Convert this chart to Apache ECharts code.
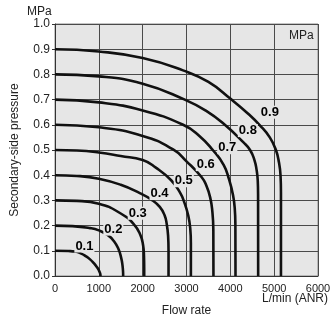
<!DOCTYPE html>
<html>
<head>
<meta charset="utf-8">
<script src="https://cdn.jsdelivr.net/npm/echarts@6/dist/echarts.min.js"></script>
<style>
html,body{margin:0;padding:0;background:#fff;}
#c{width:334px;height:324px;}
</style>
</head>
<body>
<div id="c"></div>
<script>
// Set pressures (MPa) labelling each curve
const setPressures = ['0.1','0.2','0.3','0.4','0.5','0.6','0.7','0.8','0.9'];

// Curves: [flow L/min (ANR), secondary pressure MPa]
const curve01 = [[0,0.100],[300,0.099],[460,0.097],[600,0.089],[700,0.079],[800,0.066],[880,0.052],[950,0.037],[1000,0.023],[1030,0.01],[1038,0]];
const curve02 = [[0,0.200],[400,0.198],[800,0.190],[1000,0.181],[1200,0.163],[1350,0.137],[1450,0.106],[1510,0.072],[1540,0.042],[1553,0.015],[1555,0]];
const curve03 = [[0,0.300],[500,0.298],[1000,0.287],[1500,0.248],[1800,0.205],[1950,0.162],[2010,0.122],[2030,0.080],[2035,0.030],[2035,0]];
const curve04 = [[0,0.400],[500,0.397],[1000,0.386],[1500,0.362],[1934,0.329],[2200,0.303],[2390,0.274],[2500,0.241],[2550,0.205],[2580,0.160],[2590,0.100],[2590,0]];
const curve05 = [[0,0.500],[500,0.498],[1000,0.490],[1500,0.476],[2000,0.460],[2300,0.430],[2650,0.380],[2850,0.332],[2950,0.292],[3040,0.240],[3085,0.190],[3100,0.130],[3100,0]];
const curve06 = [[0,0.600],[1000,0.590],[2000,0.556],[2694,0.502],[3000,0.455],[3342,0.393],[3450,0.360],[3540,0.312],[3590,0.255],[3612,0.185],[3615,0]];
const curve07 = [[0,0.700],[1000,0.689],[2000,0.657],[2923,0.600],[3300,0.555],[3600,0.500],[3850,0.440],[3973,0.382],[4060,0.322],[4100,0.270],[4115,0.200],[4118,0]];
const curve08 = [[0,0.800],[1000,0.792],[2000,0.763],[2960,0.700],[3450,0.655],[3874,0.600],[4300,0.530],[4450,0.500],[4550,0.460],[4600,0.420],[4625,0.380],[4633,0.320],[4635,0]];
const curve09 = [[0,0.900],[1000,0.891],[2000,0.865],[2920,0.816],[3500,0.770],[4027,0.700],[4400,0.645],[4674,0.598],[4900,0.550],[5040,0.500],[5110,0.450],[5145,0.400],[5155,0.330],[5155,0]];
const curves = [curve01,curve02,curve03,curve04,curve05,curve06,curve07,curve08,curve09];

// Curve label anchor positions
const labelFlow = [671,1331,1888,2384,2938,3440,3930,4400,4902];
const labelPressure = [0.119,0.186,0.249,0.327,0.378,0.442,0.509,0.577,0.650];

// Axis ticks
const xTicks = [0,1000,2000,3000,4000,5000,6000];
const yTicks = [0.0,0.1,0.2,0.3,0.4,0.5,0.6,0.7,0.8,0.9,1.0];

const FONT = "'Liberation Sans', Arial, Helvetica, sans-serif";
const chart = echarts.init(document.getElementById('c'), null, {renderer:'canvas'});

const series = curves.map((c, i) => ({
  type: 'line',
  name: setPressures[i],
  data: c,
  showSymbol: false,
  symbol: 'none',
  smooth: 0.5,
  lineStyle: {color: '#111', width: 2.6},
  z: 3,
  silent: true,
  animation: false
}));

series.push({
  type: 'scatter',
  data: labelFlow.map((f, i) => ({value: [f, labelPressure[i]], name: setPressures[i]})),
  symbol: 'circle',
  symbolSize: 0,
  itemStyle: {color: '#e6e6e6'},
  label: {
    show: true,
    position: 'inside',
    formatter: p => p.name,
    fontFamily: FONT,
    fontWeight: 'bold',
    fontSize: 13,
    color: '#000',
    opacity: 1,
    backgroundColor: '#e6e6e6',
    padding: [0, 1, 0, 1]
  },
  z: 6,
  silent: true,
  animation: false
});

chart.setOption({
  animation: false,
  backgroundColor: '#ffffff',
  grid: {
    left: 55, right: 16, top: 24, bottom: 48,
    show: true, backgroundColor: '#e6e6e6', borderColor: '#8a8a8a', borderWidth: 1
  },
  xAxis: {
    type: 'value', min: xTicks[0], max: xTicks[xTicks.length-1], interval: 1000,
    name: 'Flow rate', nameLocation: 'middle', nameGap: 29,
    nameTextStyle: {fontFamily: FONT, fontSize: 12, color: '#222'},
    axisLine: {show: true, lineStyle: {color: '#333', width: 1}},
    axisTick: {show: false},
    axisLabel: {fontFamily: FONT, fontSize: 11, color: '#222', margin: 7,
      formatter: v => xTicks.includes(v) ? String(v) : ''},
    splitLine: {show: true, lineStyle: {color: '#4a4a4a', width: 1}}
  },
  yAxis: {
    type: 'value', min: 0, max: 1.0, interval: 0.1,
    name: 'Secondary-side pressure', nameLocation: 'middle', nameGap: 34,
    nameTextStyle: {fontFamily: FONT, fontSize: 12, color: '#222'},
    axisLine: {show: true, lineStyle: {color: '#333', width: 1}},
    axisTick: {show: true, length: 3, lineStyle: {color: '#333'}},
    axisLabel: {fontFamily: FONT, fontSize: 12, color: '#222', margin: 5,
      padding: [4, 0, 0, 0],
      formatter: v => {
        const t = yTicks.find(y => Math.abs(y - v) < 1e-6);
        return t === undefined ? '' : t.toFixed(1);
      }},
    splitLine: {show: true, lineStyle: {color: '#4a4a4a', width: 1}}
  },
  graphic: [
    {type: 'text', left: 27, top: 6, style: {text: 'MPa', font: '12px ' + FONT, fill: '#222'}, z: 10},
    {type: 'text', left: 289, top: 30, style: {text: 'MPa', font: '12px ' + FONT, fill: '#222'}, z: 10},
    {type: 'text', left: 262, top: 293, style: {text: 'L/min (ANR)', font: '12px ' + FONT, fill: '#222'}, z: 10}
  ],
  series: series
});
</script>
</body>
</html>
